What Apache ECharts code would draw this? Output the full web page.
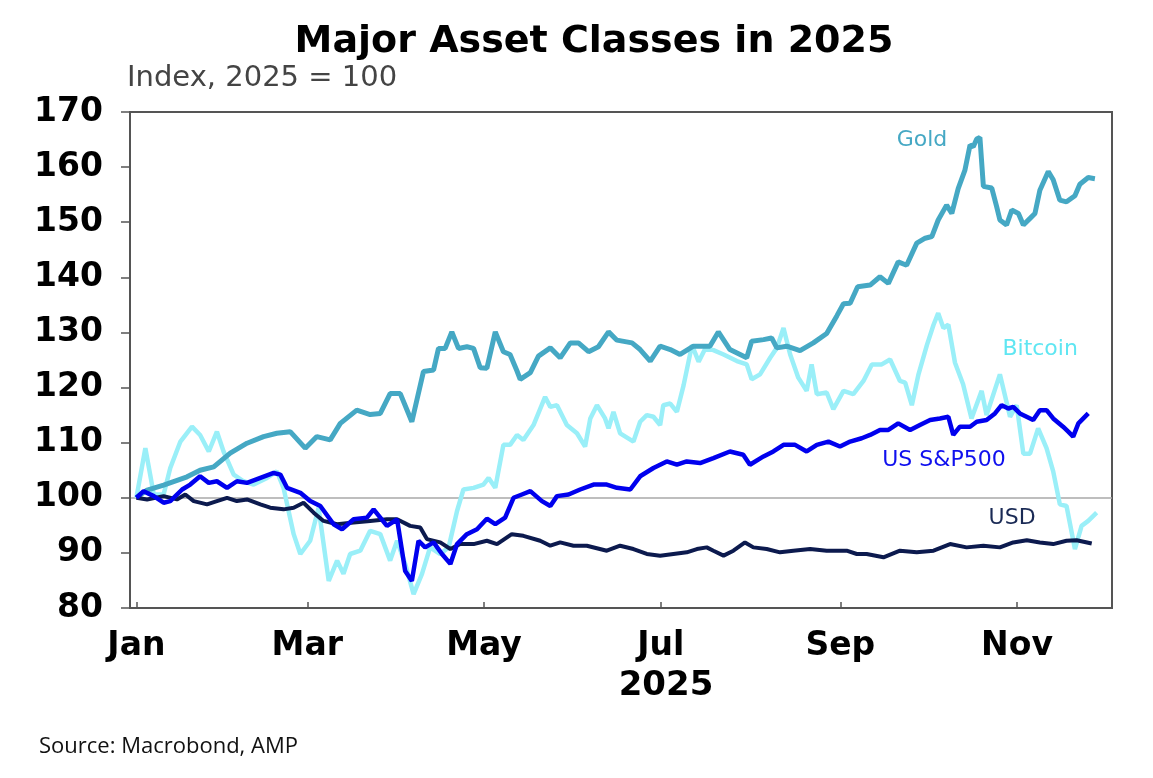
<!DOCTYPE html>
<html>
<head>
<meta charset="utf-8">
<title>Major Asset Classes in 2025</title>
<script src="https://cdn.jsdelivr.net/npm/echarts@6/dist/echarts.min.js"></script>
<style>
  html, body { margin: 0; padding: 0; background: #fff; }
  #main { width: 1153px; height: 778px; }
</style>
</head>
<body>
<div id="main"></div>
<script>
// x values are days since 1 Jan 2025
var monthTicks = [0, 59, 120, 181, 243, 304];
var monthLabels = ['Jan', 'Mar', 'May', 'Jul', 'Sep', 'Nov'];
var yTicks = [80, 90, 100, 110, 120, 130, 140, 150, 160, 170];

var goldDays = [0, 3.7, 9.4, 17.5, 22, 26.7, 32.4, 38.2, 43.9, 48.5, 53.1, 58.3, 62.3, 66.9, 70.4, 76.1, 80.7, 84.2, 87.6, 91.1,
    95.1, 99.1, 102.6, 104.3, 106.6, 108.9, 111.2, 114.1, 116.4, 118.7, 121, 123.9, 126.7, 129, 131.4, 132.5, 136, 138.8, 142.9, 146.3,
    149.8, 152.6, 156.1, 159.5, 163, 165.9, 171.1, 173.9, 177.4, 180.8, 184.3, 187.7, 192.3, 198, 200.9, 204.9, 210.7, 212.4, 216.5, 219.3,
    221.1, 224.5, 229.1, 233.7, 238.3, 241.8, 244.1, 246.4, 249, 253.3, 256.7, 259.6, 263, 265.9, 269.4, 272.3, 274.6, 276.8, 279.7, 281.5,
    283.7, 286, 287.8, 288.9, 290.1, 291.2, 292.4, 295.3, 297, 298.1, 300.4, 302.2, 304.5, 306.2, 308.5, 310.2, 311.9, 314.8, 316.5, 318.8,
    321.1, 324, 325.7, 328.6, 330.9];
var goldVals = [100, 101.4, 102.3, 103.8, 105, 105.6, 108.1, 109.9, 111.1, 111.7, 112, 109, 111.1, 110.5, 113.5, 115.9, 115.1, 115.3, 118.9, 118.9,
    113.8, 122.9, 123.2, 127.1, 127.1, 130.1, 127.1, 127.4, 127.1, 123.6, 123.5, 130.1, 126.5, 126, 123, 121.5, 122.7, 125.7, 127.2, 125.4,
    128.1, 128.1, 126.5, 127.4, 130.1, 128.6, 128.1, 126.9, 124.8, 127.5, 126.9, 126, 127.5, 127.5, 130.1, 126.9, 125.4, 128.4, 128.7, 129,
    127.2, 127.5, 126.7, 128.1, 129.8, 133, 135.2, 135.3, 138.3, 138.6, 140.1, 138.9, 142.8, 142.2, 146.2, 147.1, 147.4, 150.4, 153.1, 151.6,
    156.1, 159.4, 164, 163.7, 165.1, 165.4, 156.5, 156.2, 152.8, 150.4, 149.5, 152.2, 151.6, 149.5, 150.7, 151.6, 155.8, 159.2, 157.7, 154,
    153.7, 154.8, 156.9, 158.1, 157.9];

var spxDays = [0, 2.5, 6, 9.4, 11.7, 15.8, 18.6, 22, 25, 27.8, 31.3, 34.7, 38.2, 42.8, 47.4, 49.7, 52, 56.6, 60, 63.5,
    68.1, 71, 75, 79.6, 81.9, 86.5, 90, 92.8, 95.1, 97.4, 99.7, 102.6, 105.5, 108.4, 110.7, 114.1, 117.6, 121, 123.9, 127.3,
    130.2, 133.1, 136, 140, 142.9, 145.2, 149.2, 153.2, 157.8, 162.4, 165.9, 170.5, 173.9, 178.5, 183.1, 186.6, 190, 194.6, 199.2, 204.9,
    209.5, 211.8, 216.5, 219.9, 223.4, 227.4, 231.4, 234.9, 238.9, 242.9, 246.4, 250.4, 253.3, 256.7, 259.6, 263, 267.1, 270.5, 274, 277.4,
    280.3, 282, 284.3, 287.8, 290.1, 293.5, 296.4, 298.7, 301, 302.7, 305, 309.6, 311.9, 314.2, 316.5, 319.9, 321.7, 323.4, 325.2, 326.9,
    328.6];
var spxVals = [100, 101.2, 100.3, 99.1, 99.4, 101.5, 102.4, 103.9, 102.7, 103, 101.8, 103, 102.7, 103.6, 104.5, 104.2, 101.8, 100.9, 99.4, 98.5,
    95.2, 94.3, 96.1, 96.4, 97.9, 94.9, 96.1, 86.7, 84.9, 92.2, 91, 91.9, 89.8, 88, 91.6, 93.4, 94.3, 96.2, 95.2, 96.4,
    100, 100.6, 101.2, 99.4, 98.5, 100.3, 100.6, 101.5, 102.4, 102.4, 101.8, 101.5, 103.9, 105.4, 106.6, 106, 106.6, 106.3, 107.2, 108.4,
    107.8, 106, 107.5, 108.4, 109.6, 109.6, 108.4, 109.6, 110.2, 109.3, 110.2, 110.8, 111.4, 112.3, 112.3, 113.5, 112.3, 113.2, 114.1, 114.4,
    114.7, 111.4, 112.9, 112.9, 113.8, 114.1, 115.3, 116.8, 116.2, 116.5, 115.3, 114.1, 115.9, 115.9, 114.4, 112.9, 112, 111.1, 113.5, 114.4,
    115.3];

var usdDays = [0, 3.7, 9.4, 14, 16.9, 19.8, 24.4, 27.8, 31.3, 34.7, 38.2, 42.8, 46.2, 50.8, 54.3, 57.7, 61.2, 64.6, 69.3, 75,
    80.7, 86.5, 90, 94.5, 98, 100.3, 104.9, 108.4, 111.8, 116.4, 121, 124.5, 129.6, 133.6, 139.4, 142.9, 146.3, 150.9, 155.5, 162.4,
    167, 171.6, 176.2, 180.8, 185.4, 190, 193.5, 196.9, 199.2, 202.7, 206.1, 210.1, 213, 217.6, 222.2, 226.8, 232.6, 238.3, 245.2, 248.7,
    252.1, 257.9, 263.6, 269.4, 275.2, 280.9, 286.6, 292.4, 298.1, 302.7, 307.4, 311.9, 316.5, 321.1, 324.6, 329.8];
var usdVals = [100, 99.7, 100.3, 99.7, 100.6, 99.4, 98.8, 99.4, 100, 99.4, 99.7, 98.8, 98.2, 97.9, 98.2, 99.1, 97.3, 95.8, 95.2, 95.5,
    95.8, 96.1, 96.1, 94.9, 94.6, 92.5, 91.9, 90.7, 91.6, 91.6, 92.2, 91.6, 93.4, 93.1, 92.2, 91.3, 91.9, 91.3, 91.3, 90.4,
    91.3, 90.7, 89.8, 89.5, 89.8, 90.1, 90.7, 91, 90.4, 89.5, 90.4, 91.9, 91, 90.7, 90.1, 90.4, 90.7, 90.4, 90.4, 89.8,
    89.8, 89.2, 90.4, 90.1, 90.4, 91.6, 91, 91.3, 91, 91.9, 92.3, 91.9, 91.6, 92.2, 92.3, 91.7];

var btcDays = [0, 3.1, 6, 9.4, 11.7, 15.2, 19.2, 22, 25, 27.8, 30.1, 33.6, 37, 40.5, 45.1, 48.5, 50.8, 54.3, 56.6, 60,
    62.9, 66.4, 69.3, 71.5, 73.8, 77.3, 80.7, 84.2, 87.6, 90, 92.8, 95.7, 98.6, 101.4, 104.9, 107.8, 110.7, 112.9, 116.4, 119.8,
    121.6, 123.9, 126.7, 129, 131.4, 133.6, 137.1, 141.1, 142.9, 145.2, 148.6, 152.1, 154.9, 156.7, 159, 161.8, 163, 164.7, 167, 171.6,
    173.9, 176.2, 178.5, 180.8, 181.9, 184.3, 186.6, 188.9, 191.8, 194.1, 196.4, 199.2, 202.7, 207.3, 210.7, 212.4, 215.3, 218.8, 221.1, 223.4,
    225.7, 228.5, 231.4, 233.1, 234.9, 238.3, 240.6, 244.1, 247.5, 251, 253.9, 257.3, 260.2, 263.6, 265.4, 267.7, 270, 272.9, 275.2, 276.8,
    278.6, 280.3, 282.6, 285.4, 288.3, 291.8, 293.5, 298.1, 301.6, 303.9, 306.2, 308.5, 311.3, 314.2, 316.5, 318.8, 321.1, 324, 326.3, 328.6,
    331.5];
var btcVals = [100, 109, 100.6, 100.6, 105.4, 110.2, 112.9, 111.4, 108.4, 112, 108.4, 104.2, 103, 102.4, 103.6, 104.8, 101.8, 93.4, 89.8, 92.2,
    98.2, 84.9, 88.6, 86.2, 89.8, 90.4, 94, 93.4, 88.6, 92.2, 88, 82.5, 86.2, 91, 89.8, 91, 97.6, 101.5, 101.8, 102.4,
    103.6, 101.8, 109.6, 109.6, 111.4, 110.5, 113.2, 118.3, 116.5, 116.8, 113.2, 111.7, 109.3, 114.4, 116.8, 114.4, 112.6, 115.6, 111.7, 110.2,
    113.8, 115, 114.7, 113.2, 116.8, 117.1, 115.6, 120.4, 127.7, 124.7, 127.1, 126.8, 126, 124.8, 124.2, 121.5, 122.4, 125.4, 127.2, 130.8,
    126, 121.8, 119.4, 124.2, 118.8, 119.1, 116.1, 119.4, 118.8, 121.2, 124.2, 124.2, 125.1, 121.2, 120.9, 116.8, 122.4, 127.7, 131.4, 133.5,
    130.8, 131.4, 124.5, 120.6, 114.4, 119.4, 115, 122.4, 114.7, 116.8, 108, 108, 112.6, 109, 104.8, 98.8, 98.5, 90.7, 94.9, 95.8,
    97.3];

function pairs(xs, ys) {
    return xs.map(function (x, i) { return [x, ys[i]]; });
}

// text label sitting at a data coordinate
function tag(text, coord, color) {
    return {
        symbol: 'circle', symbolSize: 1, itemStyle: { color: 'rgba(0,0,0,0)' },
        label: { show: true, position: 'inside', formatter: text, fontFamily: 'DejaVu Sans', fontSize: 22, color: color },
        data: [{ coord: coord }]
    };
}

var myChart = echarts.init(document.getElementById('main'));

var option = {
    animation: false,
    backgroundColor: '#fff',
    title: [
        {
            text: 'Major Asset Classes in 2025',
            left: 589, top: 18, textAlign: 'center',
            textStyle: { fontFamily: 'DejaVu Sans', fontWeight: 'bold', fontSize: 38, color: '#000' }
        },
        {
            text: 'Index, 2025 = 100',
            left: 122, top: 59,
            textStyle: { fontFamily: 'DejaVu Sans', fontWeight: 'normal', fontSize: 29, color: '#444' }
        },
        {
            text: '2025',
            left: 661, top: 664, textAlign: 'center',
            textStyle: { fontFamily: 'DejaVu Sans', fontWeight: 'bold', fontSize: 34, color: '#000' }
        },
        {
            text: 'Source: Macrobond, AMP',
            left: 34, top: 731,
            textStyle: { fontFamily: 'Open Sans', fontWeight: 'normal', fontSize: 22, color: '#111' }
        }
    ],
    grid: {
        left: 130, right: 41, top: 112, bottom: 170,
        show: true, borderColor: '#555', borderWidth: 2
    },
    xAxis: {
        type: 'value',
        min: -2.2, max: 336.8,
        axisLine: { show: true, onZero: false, lineStyle: { color: '#555', width: 2 } },
        axisTick: {
            show: true, inside: true, length: 6,
            customValues: monthTicks,
            lineStyle: { color: '#555', width: 1.5 }
        },
        axisLabel: {
            customValues: monthTicks,
            margin: 22,
            fontFamily: 'DejaVu Sans', fontWeight: 'bold', fontSize: 33, color: '#000',
            formatter: function (v) { return monthLabels[monthTicks.indexOf(v)]; }
        },
        splitLine: { show: false }
    },
    yAxis: {
        type: 'value',
        min: yTicks[0], max: yTicks[yTicks.length - 1], interval: 10,
        axisLine: { show: true, onZero: false, lineStyle: { color: '#555', width: 2 } },
        axisTick: { show: true, length: 9, lineStyle: { color: '#555', width: 1.5 } },
        axisLabel: {
            margin: 27,
            fontFamily: 'DejaVu Sans', fontWeight: 'bold', fontSize: 33, color: '#000'
        },
        splitLine: {
            show: true,
            // only the 100 line is drawn
            lineStyle: {
                color: yTicks.map(function (t) { return t === 100 ? '#a8a8a8' : 'rgba(0,0,0,0)'; }),
                width: 1.5
            }
        }
    },
    series: [
        {
            name: 'Bitcoin', type: 'line', showSymbol: false, z: 2,
            lineStyle: { color: '#9aeff8', width: 4.5 },
            data: pairs(btcDays, btcVals),
            markPoint: tag('Bitcoin', [312, 127], '#5fe6f2')
        },
        {
            name: 'Gold', type: 'line', showSymbol: false, z: 3,
            lineStyle: { color: '#45a8c4', width: 5 },
            data: pairs(goldDays, goldVals),
            markPoint: tag('Gold', [271.2, 164.9], '#45a8c4')
        },
        {
            name: 'USD', type: 'line', showSymbol: false, z: 4,
            lineStyle: { color: '#0c1a4e', width: 4 },
            data: pairs(usdDays, usdVals),
            markPoint: tag('USD', [302.3, 96.3], '#1a2a55')
        },
        {
            name: 'US S&P500', type: 'line', showSymbol: false, z: 5,
            lineStyle: { color: '#0000ee', width: 4.5 },
            data: pairs(spxDays, spxVals),
            markPoint: tag('US S&P500', [278.8, 106.8], '#1010ee')
        }
    ]
};

myChart.setOption(option);
</script>
</body>
</html>
